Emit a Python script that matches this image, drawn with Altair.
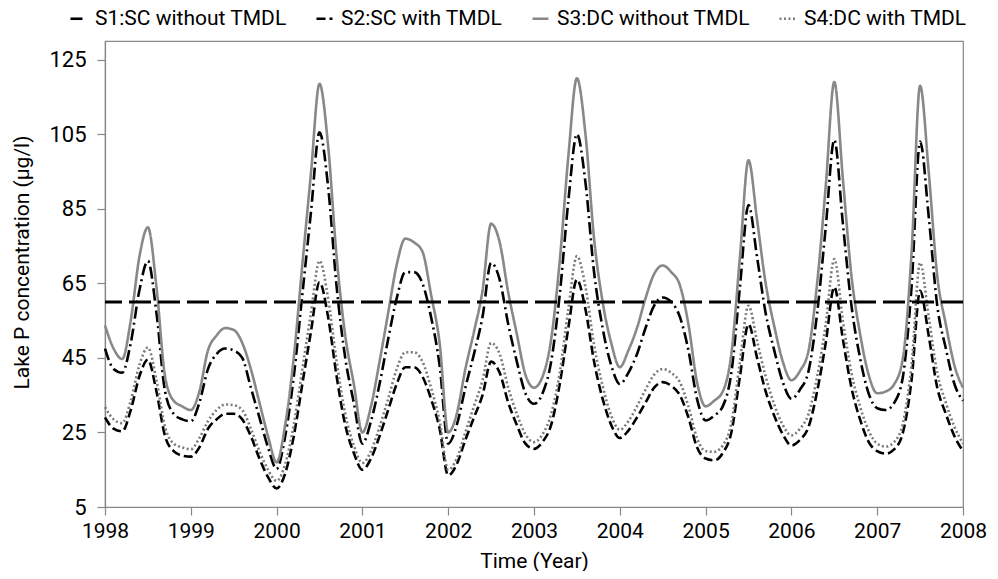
import altair as alt
import pandas as pd

# ---- data ----
series_names = ["S1:SC without TMDL", "S2:SC with TMDL", "S3:DC without TMDL", "S4:DC with TMDL"]

# sampling grid: every 0.1 year from 1998.0 to 2008.0
years = [1998 + i / 10 for i in range(101)]

s1_sc_without = [
    47.5, 42, 41, 49, 63, 71, 57, 36, 30, 28.5,
    28, 33, 42, 46, 47.5, 47, 45, 37, 29, 21,
    15.2, 24, 40, 62, 84, 105.5, 91, 64, 45, 33,
    22, 28, 38, 50, 61, 68, 68, 65, 56, 43,
    22, 27, 37, 46, 56, 70.5, 66, 54, 44, 35.5,
    32.7, 35.5, 44, 62, 87, 105, 92, 68, 53, 43,
    38, 41, 46, 53, 59, 61.2, 60, 56, 47, 34,
    28.2, 29.5, 32, 41, 64, 86, 72, 57, 47, 38.5,
    34, 36.5, 41.5, 57, 80, 103.5, 81, 59, 45, 35.5,
    31.5, 31, 33, 40, 64, 103, 83, 59, 47.5, 38,
    33.5,
]
s2_sc_with = [
    29, 26, 25.3, 31, 40, 44.5, 36, 24, 20, 18.8,
    18.5, 21, 26, 28.5, 30, 30, 28.5, 24, 18, 13,
    10, 14, 24, 38, 52, 65.3, 56, 40, 27, 19.5,
    15, 18, 24, 31, 38, 42.5, 42.5, 40, 34, 26,
    13.5, 16.5, 23, 29, 35, 44, 41, 33, 27, 22,
    20.6, 22.5, 27, 38, 53, 66, 58, 44, 34, 27,
    23.5, 25.5, 29, 33, 37, 38.5, 37.5, 35, 29, 21,
    18, 17.5, 19.5, 25, 40, 54, 45, 36, 29.5, 24.5,
    21.5, 23, 26.5, 36, 49, 64, 50, 37, 28.5, 22.5,
    20, 19.3, 20.5, 25, 39, 63, 51, 37, 30, 24,
    20,
]
s3_dc_without = [
    53.7, 47.5, 44.7, 55, 72, 80, 64, 40, 33.5, 32,
    31, 36, 47, 51, 53, 52.5, 49, 42, 33, 24,
    17, 27, 45, 70, 94.4, 118.5, 102, 72, 51, 38,
    25, 32, 44, 57, 70, 77, 76, 73.5, 62, 49,
    25, 30, 42, 52, 63, 81, 76, 62.5, 51.4, 40.5,
    37, 40, 50, 71, 99, 120, 105, 77, 60, 49,
    42.5, 47, 53, 61, 67.5, 69.8, 68, 64.5, 54, 38.5,
    32, 33.5, 36, 46, 72, 98, 82, 65, 53.5, 44,
    39, 41.5, 47, 65, 91, 119, 93, 67, 51.5, 40.5,
    35.5, 36, 38, 45, 73, 118, 95, 67, 54, 43,
    37,
]
s4_dc_with = [
    31.8, 28.5, 27.5, 33.5, 43, 47.8, 39, 26.5, 22, 21,
    20.5, 23.5, 28, 31, 32.5, 32.3, 31, 26, 20, 15,
    12, 16.5, 27, 42, 57, 71, 61, 44, 30, 21.5,
    16.8, 20, 26.5, 34, 42, 46.5, 46.5, 44, 37, 28,
    15, 18, 25, 32, 39, 49, 46, 37, 30, 24.5,
    22.4, 24.5, 30, 41, 58, 72.3, 64, 48.5, 37.5, 29.5,
    25.7, 28, 32, 36.5, 40.5, 42, 41, 38.5, 32, 23.5,
    20, 19.8, 21.5, 27.5, 44, 59, 49.5, 40, 32.5, 27,
    24.2, 26, 30, 40, 54, 71.5, 55, 41, 32, 25.5,
    22, 21.2, 22.5, 27.5, 43, 70.5, 56, 41, 33, 26.5,
    22,
]
target_value = 60

x_ticks = list(range(1998, 2009))
y_ticks = [5, 25, 45, 65, 85, 105, 125]

# ---- build table ----
rows = []
for name, vals in zip(series_names, [s1_sc_without, s2_sc_with, s3_dc_without, s4_dc_with]):
    for t, v in zip(years, vals):
        rows.append({"year": t, "value": v, "series": name})
df = pd.DataFrame(rows)

colors = ["#000000", "#000000", "#888888", "#7a7a7a"]
dashes = [[12, 4, 2, 4], [9, 4], [1, 0], [2, 2.5]]
widths = [2.6, 2.6, 2.8, 2.0]

legend = alt.Legend(
    title=None, orient="none", legendX=-37, legendY=-33, direction="horizontal",
    labelFont="Roboto", labelFontSize=21, labelColor="#000000", labelLimit=400,
    symbolSize=256, symbolType="stroke", columnPadding=24, labelOffset=6,
    padding=0,
)

lines = alt.Chart(df).mark_line(interpolate="monotone").encode(
    x=alt.X("year:Q",
            scale=alt.Scale(domain=[1998, 2008], nice=False, zero=False),
            axis=alt.Axis(values=x_ticks, format="d", title="Time (Year)",
                          labelPadding=5, titlePadding=9, labelFlush=False,
                          labelFontSize=21, ticks=True)),
    y=alt.Y("value:Q",
            scale=alt.Scale(domain=[5, 130], nice=False, zero=False),
            axis=alt.Axis(values=y_ticks, title="Lake P concentration (µg/l)",
                          labelPadding=11, titlePadding=16, labelFlush=False,
                          titleY=221)),
    color=alt.Color("series:N", scale=alt.Scale(domain=series_names, range=colors), legend=legend),
    strokeDash=alt.StrokeDash("series:N", scale=alt.Scale(domain=series_names, range=dashes), legend=legend),
    strokeWidth=alt.StrokeWidth("series:N", scale=alt.Scale(domain=series_names, range=widths), legend=legend),
)

target = alt.Chart(pd.DataFrame({"t": [target_value]})).mark_rule(
    color="#000000", strokeDash=[22, 7], strokeWidth=3
).encode(y=alt.datum(target_value))

chart = alt.layer(lines, target).properties(
    width=858, height=466,
    padding={"left": 3, "top": 0, "right": 0, "bottom": 0},
).configure_view(
    stroke="#868686", strokeWidth=1.2
).configure_axis(
    grid=False, labelFont="Roboto", labelFontSize=22, labelColor="#000000",
    titleFont="Roboto", titleFontSize=21, titleFontWeight="normal", titleColor="#000000",
    domainColor="#868686", tickColor="#868686", tickSize=8, tickWidth=1.2, domainWidth=1.2,
)

chart.save("out.html", embed_options={"renderer": "svg", "actions": False})
